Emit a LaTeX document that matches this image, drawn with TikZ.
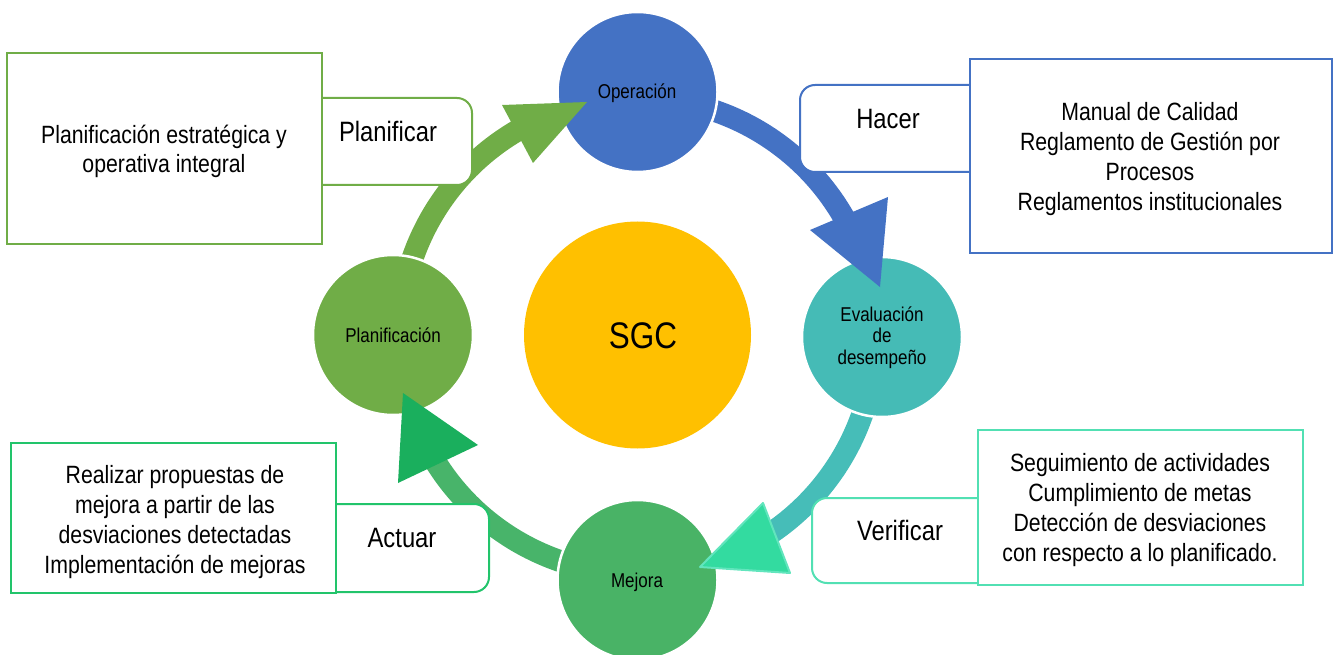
\documentclass[tikz,border=0pt]{standalone}
\usepackage{fontspec}
\setmainfont{Liberation Sans}[FakeStretch=0.85]
\usetikzlibrary{calc}
\definecolor{cblue}{HTML}{4472C4}
\definecolor{cgreen}{HTML}{70AD47}
\definecolor{cteal}{HTML}{45BBB6}
\definecolor{ctealarc}{HTML}{46BDB8}
\definecolor{cmej}{HTML}{49B366}
\definecolor{carcfour}{HTML}{48B46A}
\definecolor{ctrifour}{HTML}{1AAF5D}
\definecolor{ctritl}{HTML}{33DBA0}
\definecolor{ctritlb}{HTML}{62E5BD}
\definecolor{csgc}{HTML}{FFC000}
\definecolor{cact}{HTML}{22C46B}
\definecolor{cver}{HTML}{52E0B3}
\begin{document}
\begin{tikzpicture}[x=1pt,y=-1pt,
  shaft/.style={line width=22pt},
  ball/.style={circle,minimum size=160pt,draw=white,line width=2.5pt,inner sep=0pt},
  tagbox/.style={fill=white,line width=2pt,rounded corners=15pt},
  bigbox/.style={fill=white,line width=2pt},
  lab/.style={font=\fontsize{28}{34}\selectfont,anchor=base,inner sep=0pt},
  small/.style={font=\fontsize{20}{21.5}\selectfont,inner sep=0pt,align=center},
  boxtext/.style={font=\fontsize{25}{30}\selectfont,inner sep=0pt,align=center}]
\useasboundingbox (0,0) rectangle (1336,655);
\coordinate (C) at (637.5,336);
% shafts
\draw[shaft,cgreen] ($(C)+(185:238)$) arc[start angle=185,end angle=240.5,radius=238];
\draw[shaft,cblue] ($(C)+(275:238)$) arc[start angle=275,end angle=331,radius=238];
\draw[shaft,ctealarc] ($(C)+(5:238)$) arc[start angle=5,end angle=57,radius=238];
\draw[shaft,carcfour] ($(C)+(95:238)$) arc[start angle=95,end angle=148.8,radius=238];
% label boxes
\draw[tagbox,draw=cgreen] (300,98) rectangle (472,185);
\draw[tagbox,draw=cblue] (800,85) rectangle (990,172);
\draw[tagbox,draw=cact] (315,504) rectangle (489,592);
\draw[tagbox,draw=cver] (812,498) rectangle (1000,583);
% big boxes
\draw[bigbox,draw=cgreen] (7,53) rectangle (322,244);
\draw[bigbox,draw=cblue] (970,59) rectangle (1332,253);
\draw[bigbox,draw=cact] (11,443) rectangle (336,593);
\draw[bigbox,draw=cver] (978,430) rectangle (1303,585);
% circles
\node[ball,fill=cblue] (op) at (637.5,92) {};
\node[ball,fill=cteal] (ev) at (882,337) {};
\node[ball,fill=cmej] (me) at (637.5,580) {};
\node[ball,fill=cgreen] (pl) at (393,335) {};
\node[circle,minimum size=227pt,fill=csgc,inner sep=0pt] (sgc) at (637.5,335) {};
% arrowheads
\fill[cgreen] (502,105) -- (587,102) -- (533,163) -- cycle;
\fill[cblue] (810,230) -- (888,197) -- (880,287) -- cycle;
\filldraw[fill=ctritl,draw=ctritlb,line width=2pt,line join=round] (763,503) -- (790,573) -- (700,567) -- cycle;
\fill[ctrifour] (403,393) -- (478,445) -- (398,483) -- cycle;
% circle texts
\node[small,anchor=base] (opt) at (637,99) {Operación};
\node[small] (evt) at (882,338.2) {\strut Evaluación\\\strut de\\\strut desempeño};
\node[small,anchor=base] (plt) at (393,342) {Planificación};
\node[small,anchor=base] (met) at (637,587) {Mejora};
\node[font=\fontsize{37}{40}\selectfont,anchor=base,inner sep=0pt] (sgct) at (643,348) {SGC};
% tag texts
\node[lab] (t1) at (388,142) {Planificar};
\node[lab] (t2) at (888,129) {Hacer};
\node[lab] (t3) at (402,547) {Actuar};
\node[lab] (t4) at (900,540) {Verificar};
% box texts
\node[boxtext,font=\fontsize{25}{29}\selectfont] (b1) at (164,152.7) {\strut Planificación estratégica y\\\strut operativa integral};
\node[boxtext] (b2) at (1150,160) {\strut Manual de Calidad\\\strut Reglamento de Gestión por\\\strut Procesos\\\strut Reglamentos institucionales};
\node[boxtext] (b3) at (175,522) {\strut Realizar propuestas de\\\strut mejora a partir de las\\\strut desviaciones detectadas\\\strut Implementación de mejoras};
\node[boxtext] (b4) at (1140,510) {\strut Seguimiento de actividades\\\strut Cumplimiento de metas\\\strut Detección de desviaciones\\\strut con respecto a lo planificado.};
\end{tikzpicture}
\end{document}
